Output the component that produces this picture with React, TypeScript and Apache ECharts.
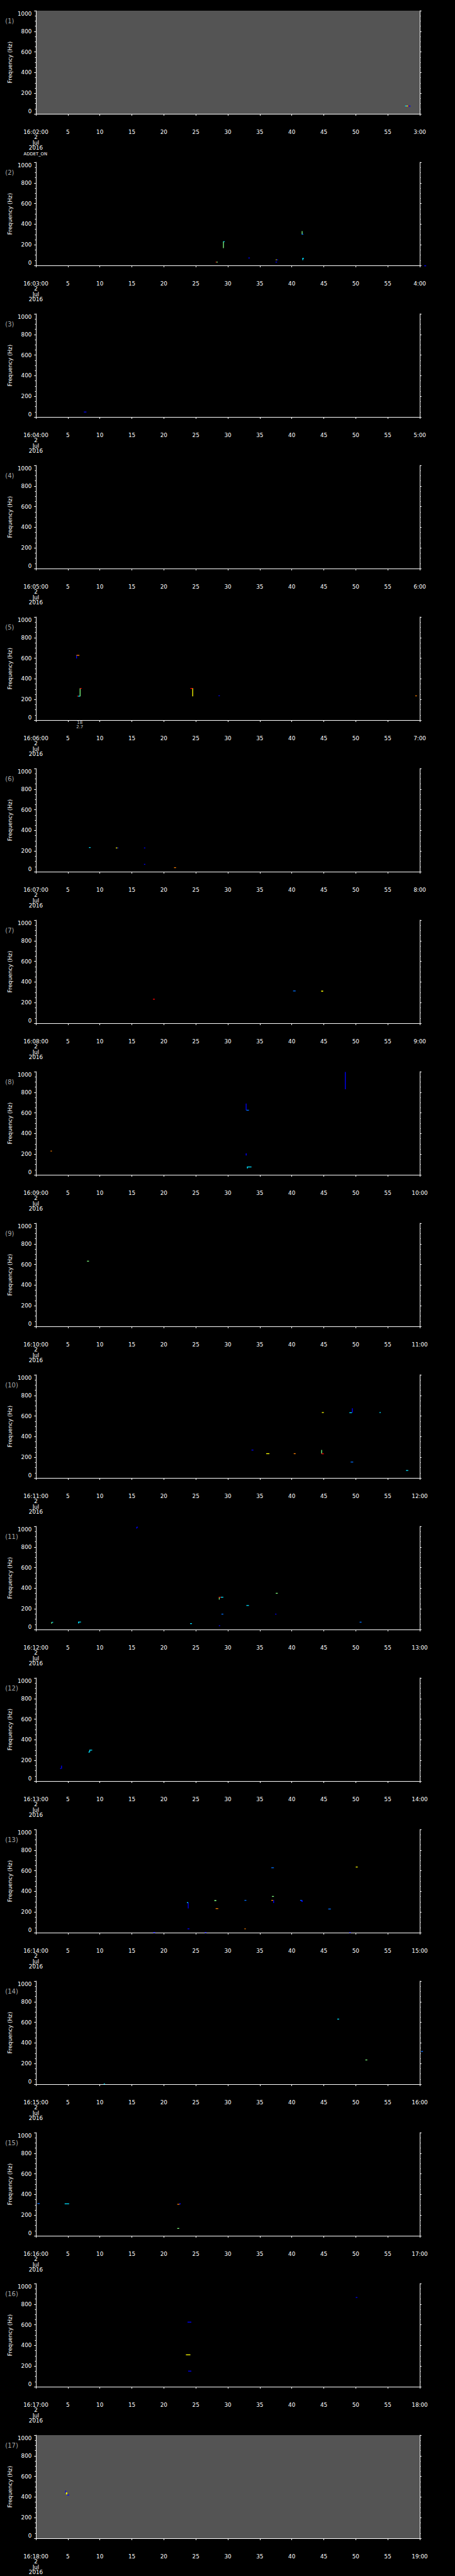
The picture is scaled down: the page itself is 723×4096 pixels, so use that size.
import React, { useEffect, useRef } from 'react';
import * as echarts from 'echarts';

// ---------- data ----------
// start minute (16:MM:00) of each of the 17 one-minute panels
const PANEL_START_MIN = [2, 3, 4, 5, 6, 7, 8, 9, 10, 11, 12, 13, 14, 15, 16, 17, 18];
// panels whose plot area is shaded grey (1-based)
const GRAY_PANELS = [1, 17];
const DATE_LINES = ['2', 'Jul', '2016'];
const FREQ_MIN = 0;
const FREQ_MAX = 1000;
const FREQ_STEP = 200;
const TIME_MAX = 60;
const TIME_STEP = 5;

// spectral power palette (low -> high)
const JET = ['#000080', '#0000ff', '#0070ff', '#00e0ff', '#80ff80', '#ffff00', '#ff8000', '#ff0000'];

// each cell: [tStart(s), tEnd(s), fLow(Hz), fHigh(Hz), powerLevel]
const P01 = [[57.7, 57.95, 72, 80, 3], [57.95, 58.15, 72, 80, 5], [58.15, 58.3, 72, 80, 7], [58.3, 58.55, 70, 80, 1]];
const P02 = [
  [28.1, 28.25, 30, 36, 7], [28.25, 28.4, 30, 36, 4],
  [29.25, 29.35, 168, 232, 4], [29.3, 29.5, 226, 234, 3],
  [33.2, 33.45, 70, 76, 1],
  [37.5, 37.65, 52, 58, 5], [37.65, 37.85, 52, 58, 1], [37.45, 37.7, 30, 36, 1],
  [41.55, 41.65, 300, 332, 4], [41.55, 41.8, 300, 306, 2],
  [41.65, 41.75, 50, 70, 3], [41.65, 41.9, 66, 72, 3],
  [60.7, 61.0, -6, 0, 1],
];
const P03 = [[7.5, 7.9, 44, 52, 1]];
const P04: number[][] = [];
const P05 = [
  [6.3, 6.4, 598, 630, 1], [6.35, 6.8, 624, 632, 6],
  [6.85, 6.95, 230, 309, 4], [6.9, 7.15, 305, 311, 7], [6.45, 6.6, 228, 236, 7], [6.6, 6.9, 228, 236, 3],
  [24.45, 24.55, 230, 309, 5], [24.15, 24.5, 305, 311, 7],
  [28.55, 28.75, 234, 240, 1],
  [59.3, 59.55, 233, 239, 6],
];
const P06 = [
  [8.3, 8.55, 230, 238, 3],
  [12.5, 12.75, 228, 234, 5], [12.75, 12.9, 228, 234, 1],
  [16.9, 17.1, 228, 234, 1], [16.9, 17.1, 69, 75, 1],
  [21.6, 21.9, 37, 43, 6],
];
const P07 = [[18.3, 18.6, 231, 237, 7], [40.2, 40.6, 311, 317, 2], [44.6, 44.9, 306, 316, 5]];
const P08 = [
  [48.3, 48.4, 829, 997, 1],
  [32.8, 32.9, 627, 691, 1], [32.9, 33.3, 624, 630, 2],
  [2.3, 2.5, 228, 234, 6],
  [32.8, 32.95, 188, 207, 1],
  [33.0, 33.1, 61, 77, 3], [33.0, 33.7, 74, 80, 3],
];
const P09 = [[8.0, 8.3, 630, 636, 4]];
const P10 = [
  [44.7, 45.0, 632, 638, 5],
  [49.0, 49.4, 628, 636, 3], [49.4, 49.5, 633, 675, 1],
  [53.7, 53.9, 632, 638, 3],
  [33.7, 34.0, 268, 274, 1],
  [36.0, 36.5, 233, 239, 5],
  [40.3, 40.6, 233, 239, 6],
  [44.6, 44.7, 236, 271, 4], [44.65, 45.0, 232, 238, 7],
  [49.2, 49.6, 152, 158, 2],
  [57.85, 58.2, 70, 76, 3],
];
const P11 = [
  [15.7, 15.8, 978, 994, 1], [15.75, 15.95, 990, 996, 1],
  [28.6, 28.7, 290, 314, 4], [28.6, 28.9, 311, 317, 7], [28.9, 29.3, 311, 317, 3],
  [37.5, 37.8, 349, 355, 4],
  [32.9, 33.3, 231, 237, 3],
  [29.0, 29.3, 147, 153, 2],
  [37.4, 37.6, 147, 153, 1],
  [2.4, 2.5, 56, 72, 4], [2.5, 2.7, 68, 74, 3],
  [6.6, 6.75, 59, 73, 3], [6.6, 7.05, 70, 76, 3],
  [24.1, 24.4, 55, 61, 3],
  [28.6, 28.8, 35, 41, 1],
  [50.6, 50.9, 69, 75, 2],
];
const P12 = [
  [8.2, 8.4, 279, 285, 3], [8.35, 8.45, 279, 303, 3], [8.4, 8.8, 298, 304, 3],
  [3.8, 3.9, 120, 126, 1], [3.95, 4.05, 120, 150, 1],
];
const P13 = [
  [36.8, 37.2, 627, 633, 2],
  [50.0, 50.3, 632, 640, 5],
  [23.75, 23.85, 234, 292, 1], [23.6, 23.8, 289, 295, 3],
  [27.9, 28.2, 306, 316, 4],
  [28.1, 28.5, 231, 237, 6],
  [32.6, 32.9, 311, 317, 2],
  [36.9, 37.2, 349, 355, 4],
  [36.8, 37.1, 310, 317, 6], [37.1, 37.2, 287, 316, 1],
  [41.3, 41.6, 311, 317, 2], [41.5, 41.7, 298, 314, 1],
  [45.7, 46.1, 225, 233, 2],
  [23.7, 24.0, 35, 41, 1],
  [32.6, 32.8, 35, 41, 6],
  [18.35, 18.65, 0, 6, 1],
  [26.4, 26.65, 0, 6, 1],
  [49.0, 49.2, 0, 6, 1],
];
const P14 = [[47.1, 47.4, 629, 635, 3], [51.5, 51.8, 233, 239, 4], [10.6, 10.8, 0, 6, 3], [60.2, 60.5, 316, 322, 2]];
const P15 = [
  [0.23, 0.6, 310, 316, 2],
  [4.5, 5.2, 306, 314, 3],
  [22.1, 22.45, 303, 309, 6], [22.45, 22.6, 303, 317, 1],
  [22.1, 22.4, 69, 75, 4],
];
const P16 = [[50.0, 50.25, 863, 869, 1], [23.7, 24.3, 624, 630, 1], [23.45, 24.15, 307, 313, 5], [23.8, 24.3, 148, 155, 1]];
const P17 = [[4.6, 4.7, 440, 463, 1], [4.7, 4.9, 425, 445, 5], [4.9, 5.2, 415, 423, 1]];
const PANELS = [P01, P02, P03, P04, P05, P06, P07, P08, P09, P10, P11, P12, P13, P14, P15, P16, P17];

// event annotation written under panel 5: [panel(1-based), time(s), freq(Hz), text]
const NOTES: [number, number, number, string][] = [[5, 6.86, -46, '18\n2.7']];

// ---------- layout ----------
const W = 723;
const H = 4096;
const S = 723 / 1024;
const STEP = 341.29;
const FONT = 'DejaVu Sans';
const GRID_LEFT = 57;
const GRID_WIDTH = 610;
const GRID_HEIGHT = 164;

function buildOption() {
  const grid: any[] = [];
  const xAxis: any[] = [];
  const yAxis: any[] = [];
  const series: any[] = [];
  const graphic: any[] = [];

  PANELS.forEach((cells, k) => {
    const top = Math.round((24 + k * STEP) * S);
    const gray = GRAY_PANELS.includes(k + 1);
    grid.push({
      left: GRID_LEFT,
      top,
      width: GRID_WIDTH,
      height: GRID_HEIGHT,
      show: gray,
      backgroundColor: '#545454',
      borderWidth: 0,
      outerBoundsMode: 'none',
    });
    const startMin = PANEL_START_MIN[k];
    const mm = String(startMin).padStart(2, '0');
    xAxis.push({
      gridIndex: k,
      type: 'value',
      min: 0,
      max: TIME_MAX,
      interval: TIME_STEP,
      position: 'bottom',
      offset: 17,
      axisLine: { show: true, lineStyle: { color: '#fff', width: 1 } },
      axisTick: { show: true, length: 3, lineStyle: { color: '#fff', width: 1 } },
      minorTick: { show: false },
      splitLine: { show: false },
      axisLabel: {
        color: '#fff',
        fontFamily: FONT,
        fontSize: 8.8,
        lineHeight: 8.5,
        margin: 7.5,
        formatter: (v: number) => {
          if (v === 0) return `16:${mm}:00\n${DATE_LINES.join('\n')}`;
          if (v === TIME_MAX) return `${startMin + 1}:00`;
          return String(v);
        },
      },
    });
    const yBase = {
      gridIndex: k,
      type: 'value',
      min: FREQ_MIN,
      max: FREQ_MAX,
      interval: FREQ_STEP,
      axisLine: { show: true, lineStyle: { color: '#fff', width: 1 } },
      axisTick: { show: true, length: 2.8, lineStyle: { color: '#fff', width: 1 } },
      minorTick: { show: true, splitNumber: 4, length: 1.5, lineStyle: { color: '#fff', width: 1 } },
      splitLine: { show: false },
      minorSplitLine: { show: false },
    };
    yAxis.push({
      ...yBase,
      position: 'left',
      axisLabel: {
        color: '#fff',
        fontFamily: FONT,
        fontSize: 8.8,
        margin: 6.6,
        formatter: (v: number) => String(v),
        verticalAlignMinLabel: 'bottom',
        verticalAlignMaxLabel: 'top',
      },
    });
    yAxis.push({ ...yBase, position: 'right', axisLabel: { show: false } });

    series.push({
      type: 'custom',
      xAxisIndex: k,
      yAxisIndex: 2 * k,
      clip: false,
      data: cells,
      encode: { x: [0, 1], y: [2, 3] },
      renderItem: (_p: any, api: any) => {
        const a = api.coord([api.value(0), api.value(3)]);
        const b = api.coord([api.value(1), api.value(2)]);
        return {
          type: 'rect',
          shape: { x: a[0], y: a[1], width: Math.max(b[0] - a[0], 1.3), height: Math.max(b[1] - a[1], 1.3) },
          style: { fill: JET[api.value(4)] },
        };
      },
    });

    const notes = NOTES.filter((n) => n[0] === k + 1);
    if (notes.length) {
      series.push({
        type: 'scatter',
        xAxisIndex: k,
        yAxisIndex: 2 * k,
        clip: false,
        symbolSize: 0,
        data: notes.map((n) => ({ value: [n[1], n[2]], label: { formatter: n[3] } })),
        label: {
          show: true,
          position: 'inside',
          color: '#fff',
          fontFamily: FONT,
          fontSize: 7,
          lineHeight: 6.6,
        },
      });
    }

    graphic.push({
      type: 'text',
      x: 8.3,
      y: top + 16,
      style: {
        text: `(${k + 1})`,
        fill: '#a8a8a8',
        font: `10px "${FONT}"`,
        textAlign: 'left',
        textVerticalAlign: 'middle',
      },
    });
    graphic.push({
      type: 'text',
      x: 16.3,
      y: top + GRID_HEIGHT / 2,
      rotation: Math.PI / 2,
      style: {
        text: 'Frequency (Hz)',
        fill: '#fff',
        font: `8.8px "${FONT}"`,
        textAlign: 'center',
        textVerticalAlign: 'middle',
      },
    });
  });

  graphic.push({
    type: 'text',
    x: 79.7 * S,
    y: 347.7 * S,
    style: { text: 'ADDET_ON', fill: '#fff', font: `6.8px "${FONT}"`, textAlign: 'center', textVerticalAlign: 'middle' },
  });

  return {
    animation: false,
    backgroundColor: '#000',
    grid,
    xAxis,
    yAxis,
    series,
    graphic,
  };
}

export default function App() {
  const ref = useRef<HTMLDivElement>(null);
  useEffect(() => {
    document.body.style.margin = '0';
    document.body.style.background = '#000';
    const chart = echarts.init(ref.current!, null, { renderer: 'svg', width: W, height: H });
    chart.setOption(buildOption() as any);
    return () => chart.dispose();
  }, []);
  return <div ref={ref} style={{ width: W, height: H, background: '#000' }} />;
}
